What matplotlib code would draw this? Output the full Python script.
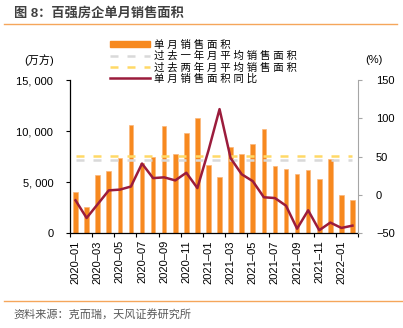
import matplotlib.pyplot as plt
from matplotlib.patches import Patch
from matplotlib.lines import Line2D
import numpy as np

plt.rcParams['font.family'] = ['Liberation Sans', 'Noto Sans CJK SC', 'DejaVu Sans']

months = ['2020-01', '2020-02', '2020-03', '2020-04', '2020-05', '2020-06',
          '2020-07', '2020-08', '2020-09', '2020-10', '2020-11', '2020-12',
          '2021-01', '2021-02', '2021-03', '2021-04', '2021-05', '2021-06',
          '2021-07', '2021-08', '2021-09', '2021-10', '2021-11', '2021-12',
          '2022-01', '2022-02']
# 单月销售面积 (万方)
area = [4000, 2600, 5700, 6100, 7400, 10550, 6900, 7430, 10530, 7760, 9810, 11310,
        6650, 5480, 8440, 7760, 8740, 10170, 6550, 6290, 5840, 6230, 5350, 7270,
        3750, 3260]
# 单月销售面积同比 (%)
yoy = [-7, -30, -12, 6, 7, 11, 41, 22, 23, 19, 29, 9, 58, 112, 48, 27, 18, -3,
       -4, -14, -44, -20, -46, -36, -43, -40]
avg_1y = 7130  # 过去一年月平均销售面积
avg_2y = 7550  # 过去两年月平均销售面积

names = ['单月销售面积', '过去一年月平均销售面积', '过去两年月平均销售面积', '单月销售面积同比']

c_bar = '#F7891F'
c_line = '#9B1C3C'
c_gray = '#D9D9D9'
c_yel = '#FFD966'
c_rule = '#F5A65B'

fig = plt.figure(figsize=(4.03, 3.28), dpi=100)
ax = fig.add_axes([70 / 403, 1 - 233.3 / 328, 288 / 403, 153.3 / 328])

x = np.arange(len(months))
ax.bar(x, area, width=0.42, color=c_bar, edgecolor='#FBB77A', linewidth=0.5, zorder=2)
ax.plot(x, np.full(len(x), avg_1y), color=c_gray, lw=1.8, dashes=(3.2, 3.6), zorder=3)
ax.plot(x, np.full(len(x), avg_2y), color=c_yel, lw=1.8, dashes=(3.2, 3.6), zorder=3)
ax.set_xlim(-0.5, len(x) - 0.5)
ax.set_ylim(0, 15000)

ax2 = ax.twinx()
ax2.plot(x, yoy, color=c_line, lw=1.8)
ax2.set_ylim(-50, 150)

for s in ['top', 'right']:
    ax.spines[s].set_visible(False)
for s in ['top', 'left', 'bottom']:
    ax2.spines[s].set_visible(False)
ax2.spines['right'].set_color('#A6A6A6')
ax.spines['left'].set_linewidth(0.9)
ax.spines['bottom'].set_linewidth(0.9)

# x axis: ticks between categories, labels on every second month
ax.set_xticks(np.arange(-0.5, len(x), 2))
ax.set_xticklabels([])
ax.tick_params(axis='x', which='major', length=3, direction='out')
ax.set_xticks(x[::2], minor=True)
ax.set_xticklabels([m.replace('-', '–') for m in months[::2]], minor=True,
                   rotation=90, fontsize=8)
ax.tick_params(axis='x', which='minor', length=0, pad=5)

lt = [0, 5000, 10000, 15000]
ax.set_yticks(lt)
ax.set_yticklabels(['{:,}'.format(v).replace(',', ', ') for v in lt], fontsize=8)
ax.tick_params(axis='y', length=3, pad=9)

rt = [-50, 0, 50, 100, 150]
ax2.set_yticks(rt)
ax2.set_yticklabels([str(v).replace('-', '−') for v in rt], fontsize=8)
ax2.tick_params(axis='y', length=3, pad=10, color='#A6A6A6')

fig.text(39 / 403, 1 - 60 / 328, '(万方)', ha='center', va='center', fontsize=8)
fig.text(374 / 403, 1 - 60 / 328, '(%)', ha='center', va='center', fontsize=8)

handles = [Patch(color=c_bar),
           Line2D([], [], color=c_gray, lw=1.8, dashes=(3.2, 3.6)),
           Line2D([], [], color=c_yel, lw=1.8, dashes=(3.2, 3.6)),
           Line2D([], [], color=c_line, lw=1.8)]
fig.legend(handles, [' '.join(n) for n in names], loc='upper left',
           bbox_to_anchor=(110 / 403, 1 - 40 / 328), frameon=False, fontsize=7.5,
           handlelength=3.8, handleheight=0.5, handletextpad=0.4,
           labelspacing=0.1, borderpad=0, borderaxespad=0)

fig.text(14 / 403, 1 - 13 / 328, '图 8：百强房企单月销售面积', ha='left', va='center',
         fontsize=9.5, fontweight='bold', color='#404040')
fig.add_artist(Line2D([4 / 403, 397 / 403], [1 - 23.5 / 328] * 2, color=c_rule, lw=1))
fig.add_artist(Line2D([4 / 403, 1], [1 - 301 / 328] * 2, color=c_rule, lw=1))
fig.text(13 / 403, 1 - 314 / 328, '资料来源：克而瑞，天风证券研究所', ha='left', va='center',
         fontsize=8, color='#595959')

fig.savefig('out.png', dpi=100)
